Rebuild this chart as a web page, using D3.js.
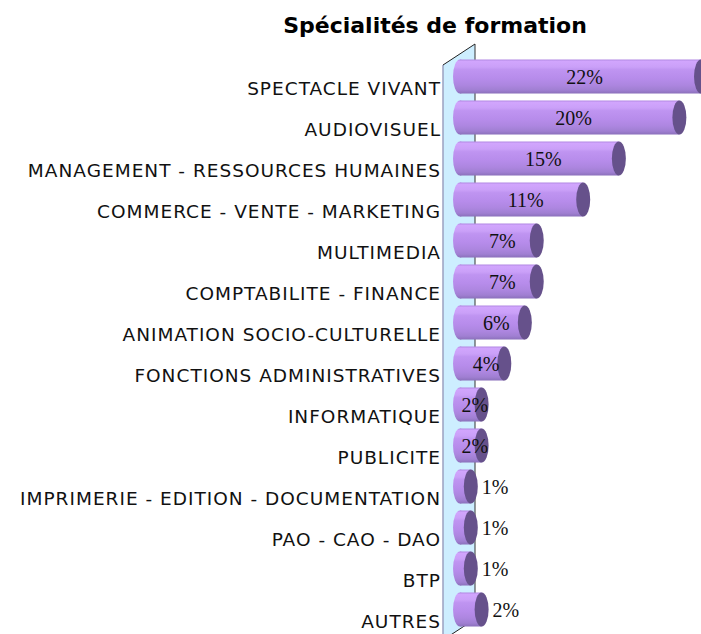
<!DOCTYPE html>
<html>
<head>
<meta charset="utf-8">
<script src="https://cdn.jsdelivr.net/npm/d3@7"></script>
<style>
    body { margin: 0; background: #fff; }
    .cat-label { font-family: "DejaVu Sans", Verdana, sans-serif; font-size: 18.5px; letter-spacing: 1px; fill: #111; }
    .val-label { font-family: "Liberation Serif", "Times New Roman", serif; font-size: 20px; fill: #111; }
    .chart-title { font-family: "DejaVu Sans", Verdana, sans-serif; font-size: 22px; font-weight: bold; fill: #000; }
</style>
</head>
<body>
<svg id="bar"></svg>
<script>
// data (percent of trainees per speciality)
let categories = [
    "SPECTACLE VIVANT",
    "AUDIOVISUEL",
    "MANAGEMENT - RESSOURCES HUMAINES",
    "COMMERCE - VENTE - MARKETING",
    "MULTIMEDIA",
    "COMPTABILITE - FINANCE",
    "ANIMATION SOCIO-CULTURELLE",
    "FONCTIONS ADMINISTRATIVES",
    "INFORMATIQUE",
    "PUBLICITE",
    "IMPRIMERIE - EDITION - DOCUMENTATION",
    "PAO - CAO - DAO",
    "BTP",
    "AUTRES"
];
let values = [22.3, 20.3, 14.7, 11.4, 7.1, 7.1, 6.0, 4.1, 2.0, 2.0, 1.0, 1.0, 1.0, 2.0];
let title = "Spécialités de formation";

let w = 701, h = 634;

function drawChart() {
    let svg = d3.select('#bar')
        .attr('width', w)
        .attr('height', h);

    let rows = categories.map((c, i) => ({ name: c, value: values[i] }));

    let yScale = d3.scaleBand()
        .domain(categories)
        .range([56, 630])
        .paddingInner(0.17)
        .paddingOuter(0.085);

    let xScale = d3.scaleLinear()
        .domain([0, d3.max(values)])
        .range([460, 701]);

    let defs = svg.append('defs');
    let grad = defs.append('linearGradient')
        .attr('id', 'cyl')
        .attr('x1', 0).attr('y1', 0)
        .attr('x2', 0).attr('y2', 1);
    [[0, '#b38ae4'], [0.06, '#d1a5fd'], [0.22, '#caa0f8'], [0.3, '#bf94f1'],
     [0.55, '#b78ceb'], [0.75, '#ad86e0'], [0.9, '#a07fd2'], [1, '#8b70bb']]
        .forEach(s => grad.append('stop').attr('offset', s[0]).attr('stop-color', s[1]));

    //back wall (3d depth)
    let wall = svg.append('g');
    wall.append('polygon')
        .attr('points', '443,65 475,44 475,619 443,640')
        .attr('fill', '#cdeeff');
    wall.append('line')
        .attr('x1', 443).attr('y1', 65).attr('x2', 443).attr('y2', 640)
        .attr('stroke', '#9aa0c0').attr('stroke-width', 1.5);
    wall.append('line')
        .attr('x1', 475).attr('y1', 44).attr('x2', 475).attr('y2', 619)
        .attr('stroke', '#333').attr('stroke-width', 1);
    wall.append('line')
        .attr('x1', 443).attr('y1', 65).attr('x2', 475).attr('y2', 44)
        .attr('stroke', '#222').attr('stroke-width', 1);
    wall.append('line')
        .attr('x1', 443).attr('y1', 640).attr('x2', 475).attr('y2', 619)
        .attr('stroke', '#222').attr('stroke-width', 1);

    //title
    svg.append('text')
        .attr('x', 435)
        .attr('y', 33)
        .style('text-anchor', 'middle')
        .text(title)
        .classed('chart-title', true);

    //category labels (sit a little lower than the bars, 3d front plane)
    svg.append('g')
        .selectAll('text')
        .data(rows)
        .enter()
        .append('text')
        .classed('cat-label', true)
        .attr('x', 441)
        .attr('y', d => yScale(d.name) + yScale.bandwidth() / 2 + 18.5)
        .style('text-anchor', 'end')
        .text(d => d.name);

    let rx = 7;
    let bars = svg.append('g')
        .selectAll('g')
        .data(rows)
        .enter()
        .append('g');

    //cylinder body
    bars.append('rect')
        .attr('x', xScale(0))
        .attr('y', d => yScale(d.name))
        .attr('width', d => xScale(d.value) - xScale(0))
        .attr('height', yScale.bandwidth())
        .attr('fill', 'url(#cyl)');

    //rounded back end
    bars.append('ellipse')
        .attr('cx', xScale(0))
        .attr('cy', d => yScale(d.name) + yScale.bandwidth() / 2)
        .attr('rx', rx)
        .attr('ry', yScale.bandwidth() / 2)
        .attr('fill', 'url(#cyl)');

    //front cap
    bars.append('ellipse')
        .attr('cx', d => xScale(d.value))
        .attr('cy', d => yScale(d.name) + yScale.bandwidth() / 2)
        .attr('rx', rx)
        .attr('ry', yScale.bandwidth() / 2)
        .attr('fill', '#66518b');

    //value labels
    let last = rows.length - 1;
    let outside = (d, i) => d.value < 1.5 || i === last;
    bars.append('text')
        .classed('val-label', true)
        .attr('x', (d, i) => outside(d, i) ? xScale(d.value) + 11 : (xScale(0) + xScale(d.value)) / 2 + 4)
        .attr('y', d => yScale(d.name) + yScale.bandwidth() / 2 + 7)
        .style('text-anchor', (d, i) => outside(d, i) ? 'start' : 'middle')
        .text(d => d3.format('.0f')(d.value) + '%');
}

drawChart();
</script>
</body>
</html>
